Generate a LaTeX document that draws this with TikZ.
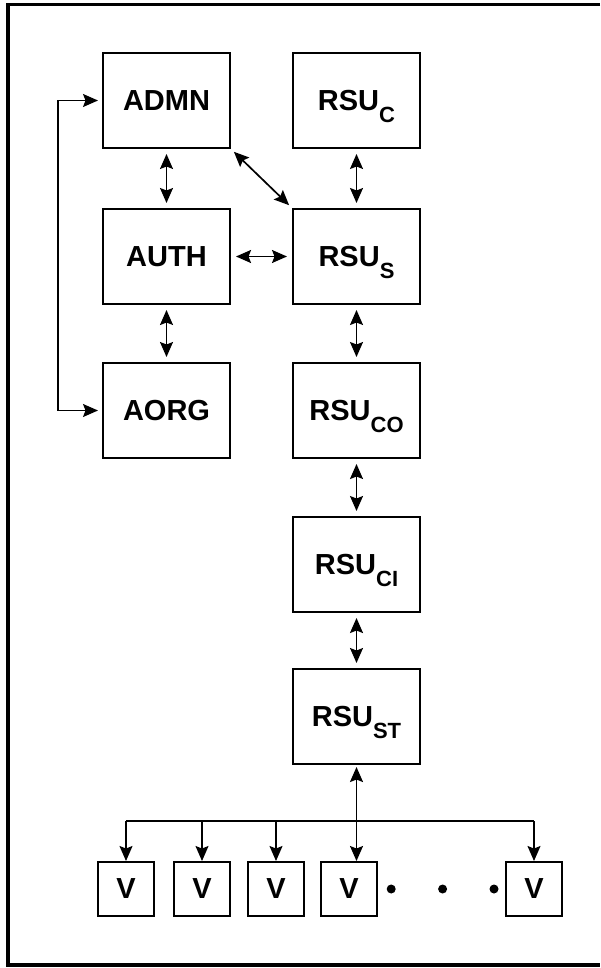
\documentclass[tikz,border=0pt]{standalone}
\usepackage{fontspec}
\setmainfont{Liberation Sans}
\usetikzlibrary{arrows.meta,positioning}

\newcommand{\lowsub}[1]{\raisebox{-12.5pt}[0pt][0pt]{\fontsize{22}{23}\selectfont #1}}

\tikzset{
    unit/.style={draw, line width=2pt, minimum width=127pt, minimum height=95pt, inner sep=0pt, font={\fontsize{29}{31}\selectfont\bfseries}},
    veh/.style={draw, line width=2pt, minimum width=56pt, minimum height=54pt, inner sep=0pt, font={\fontsize{29}{31}\selectfont\bfseries}},
    dot/.style={circle, fill=black, inner sep=0pt, minimum size=9pt},
    link/.style={line width=1.7pt, {Stealth[length=15pt, width=13pt, inset=2.5pt]}-{Stealth[length=15pt, width=13pt, inset=2.5pt]}, shorten <=5pt, shorten >=5pt},
    drop/.style={line width=1.3pt, -{Stealth[length=15pt, width=13pt, inset=2.5pt]}},
}

\begin{document}
\begin{tikzpicture}[x=1pt, y=1pt]
    \useasboundingbox (0,0) rectangle (600,-968);
    \draw[line width=3.5pt] (600,-4.5) -- (8,-4.5) -- (8,-965) -- (600,-965);

    % left column
    \node[unit] (admn) at (166.5,-100.5) {ADMN};
    \node[unit, below=59pt of admn] (auth) {AUTH};
    \node[unit, below=57pt of auth] (aorg) {AORG};

    % right column
    \node[unit, right=61pt of admn] (rsuc) {RSU\lowsub{C}};
    \node[unit, below=59pt of rsuc] (rsus) {RSU\lowsub{S}};
    \node[unit, below=57pt of rsus] (rsuco) {RSU\lowsub{CO}};
    \node[unit, below=57pt of rsuco] (rsuci) {RSU\lowsub{CI}};
    \node[unit, below=55pt of rsuci] (rsust) {RSU\lowsub{ST}};

    % vehicles
    \node[veh] (v1) at (126,-889) {V};
    \node[veh, right=18pt of v1] (v2) {V};
    \node[veh, right=16pt of v2] (v3) {V};
    \node[veh, right=15pt of v3] (v4) {V};
    \node[dot, right=8.5pt of v4] (d1) {};
    \node[dot, right=42pt of d1] (d2) {};
    \node[dot, right=42pt of d2] (d3) {};
    \node[veh, right=127pt of v4] (v5) {V};
    \coordinate (bus) at (0,-821);

    \draw[link] (admn) -- (auth);
    \draw[link] (auth) -- (aorg);
    \draw[link] (auth) -- (rsus);
    \draw[link, shorten <=4pt, shorten >=4pt] (admn.south east) -- (rsus.north west);
    \draw[link] (rsuc) -- (rsus);
    \draw[link] (rsus) -- (rsuco);
    \draw[link] (rsuco) -- (rsuci);
    \draw[link] (rsuci) -- (rsust);
    \draw[link, line width=1.4pt, shorten <=4pt, shorten >=4pt] (admn.west) -- ++(-44pt,0) |- (aorg.west);

    \draw[link, shorten <=2pt, shorten >=0pt] (rsust.south) -- (rsust.south |- v4.north);
    \draw[line width=1.3pt] (v1.north |- bus) -- (v5.north |- bus);
    \foreach \v in {v1,v2,v3,v5}
        \draw[drop] (\v.north |- bus) -- (\v.north);
\end{tikzpicture}
\end{document}
